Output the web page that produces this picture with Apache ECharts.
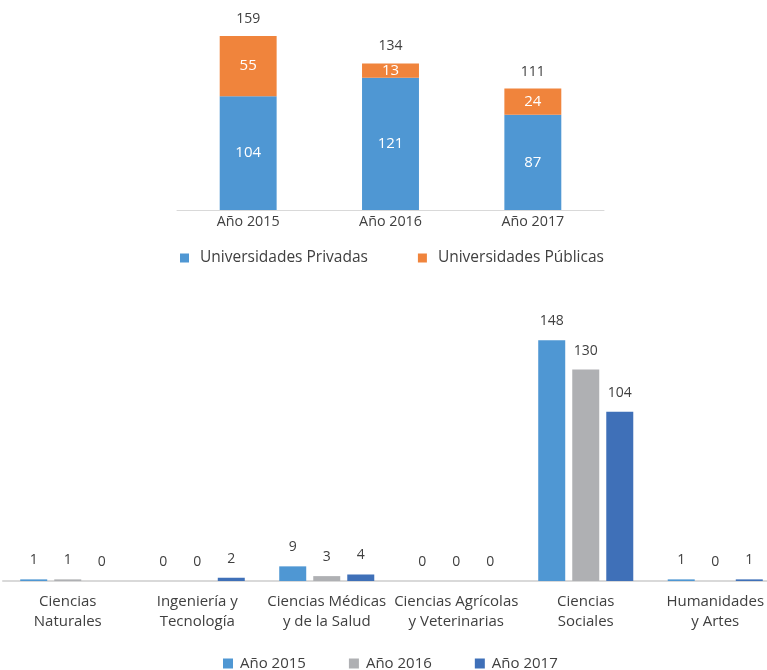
<!DOCTYPE html>
<html>
<head>
<meta charset="utf-8">
<script src="https://cdn.jsdelivr.net/npm/echarts@6/dist/echarts.min.js"></script>
<style>
  html, body { margin: 0; padding: 0; background: #ffffff; }
  #chart { width: 767px; height: 670px; }
</style>
</head>
<body>
<div id="chart"></div>
<script>
// Enrollment by year, split by university type
const years = ['Año 2015', 'Año 2016', 'Año 2017'];
const privadas = [104, 121, 87];
const publicas = [55, 13, 24];

// Enrollment by field of knowledge and year
const areas = [
  'Ciencias\nNaturales',
  'Ingeniería y\nTecnología',
  'Ciencias Médicas\ny de la Salud',
  'Ciencias Agrícolas\ny Veterinarias',
  'Ciencias\nSociales',
  'Humanidades\ny Artes'
];
const area2015 = [1, 0, 9, 0, 148, 1];
const area2016 = [1, 0, 3, 0, 130, 0];
const area2017 = [0, 2, 4, 0, 104, 1];

const totals = privadas.map((v, i) => v + publicas[i]);

const FONT = '"Open Sans", "Noto Sans", sans-serif';
const TEXT = '#404040';
const BLUE = '#4F97D3';
const ORANGE = '#F0843C';
const GRAY = '#AFB0B3';
const DARK = '#3F70B8';

const chart = echarts.init(document.getElementById('chart'));

const valueLabel = {
  show: true,
  position: 'top',
  distance: 12,
  color: TEXT,
  fontFamily: FONT,
  fontSize: 14
};

chart.setOption({
  animation: false,
  textStyle: { fontFamily: FONT },
  grid: [
    { left: 177, top: 35, width: 427, height: 175, outerBoundsMode: 'none' },
    { left: 3, top: 337, width: 777, height: 244, outerBoundsMode: 'none' }
  ],
  xAxis: [
    {
      gridIndex: 0, type: 'category', data: years,
      axisLine: { lineStyle: { color: '#D9D9D9', width: 1 } },
      axisTick: { show: false },
      axisLabel: { color: TEXT, fontSize: 14.3, fontFamily: FONT, margin: 5 }
    },
    {
      gridIndex: 1, type: 'category', data: areas,
      axisLine: { lineStyle: { color: '#D9D9D9', width: 2 } },
      axisTick: { show: false },
      axisLabel: { color: TEXT, fontSize: 15, fontFamily: FONT, margin: 11, lineHeight: 20, interval: 0 }
    }
  ],
  yAxis: [
    { gridIndex: 0, type: 'value', min: 0, max: 160, show: false },
    { gridIndex: 1, type: 'value', min: 0, max: 150, show: false }
  ],
  legend: [
    {
      data: ['Universidades Privadas', 'Universidades Públicas'],
      left: 175, top: 245,
      icon: 'rect', itemWidth: 9, itemHeight: 9, itemGap: 50,
      textStyle: { color: TEXT, fontSize: 15.5, fontFamily: FONT, padding: [0, 0, 0, 6] }
    },
    {
      data: ['Año 2015', 'Año 2016', 'Año 2017'],
      left: 218, top: 651,
      icon: 'rect', itemWidth: 10, itemHeight: 10, itemGap: 43,
      textStyle: { color: TEXT, fontSize: 15, fontFamily: FONT, padding: [0, 0, 0, 2] }
    }
  ],
  series: [
    {
      name: 'Universidades Privadas', type: 'bar', stack: 'u',
      xAxisIndex: 0, yAxisIndex: 0, data: privadas,
      barCategoryGap: '60%',
      itemStyle: { color: BLUE },
      label: { show: true, position: 'inside', color: '#ffffff', fontSize: 15, fontFamily: FONT }
    },
    {
      name: 'Universidades Públicas', type: 'bar', stack: 'u',
      xAxisIndex: 0, yAxisIndex: 0, data: publicas,
      itemStyle: { color: ORANGE },
      label: { show: true, position: 'inside', color: '#ffffff', fontSize: 15, fontFamily: FONT }
    },
    {
      name: 'Total', type: 'bar', stack: 'u',
      xAxisIndex: 0, yAxisIndex: 0, data: totals.map(() => 0),
      itemStyle: { color: 'transparent' },
      label: {
        show: true, position: 'top', distance: 10,
        color: TEXT, fontSize: 14, fontFamily: FONT,
        formatter: p => totals[p.dataIndex]
      }
    },
    {
      name: 'Año 2015', type: 'bar', xAxisIndex: 1, yAxisIndex: 1,
      data: area2015, barWidth: 27, barGap: '26%',
      itemStyle: { color: BLUE }, label: valueLabel
    },
    {
      name: 'Año 2016', type: 'bar', xAxisIndex: 1, yAxisIndex: 1,
      data: area2016, barWidth: 27, barGap: '26%',
      itemStyle: { color: GRAY }, label: valueLabel
    },
    {
      name: 'Año 2017', type: 'bar', xAxisIndex: 1, yAxisIndex: 1,
      data: area2017, barWidth: 27, barGap: '26%',
      itemStyle: { color: DARK }, label: valueLabel
    }
  ]
});
</script>
</body>
</html>
